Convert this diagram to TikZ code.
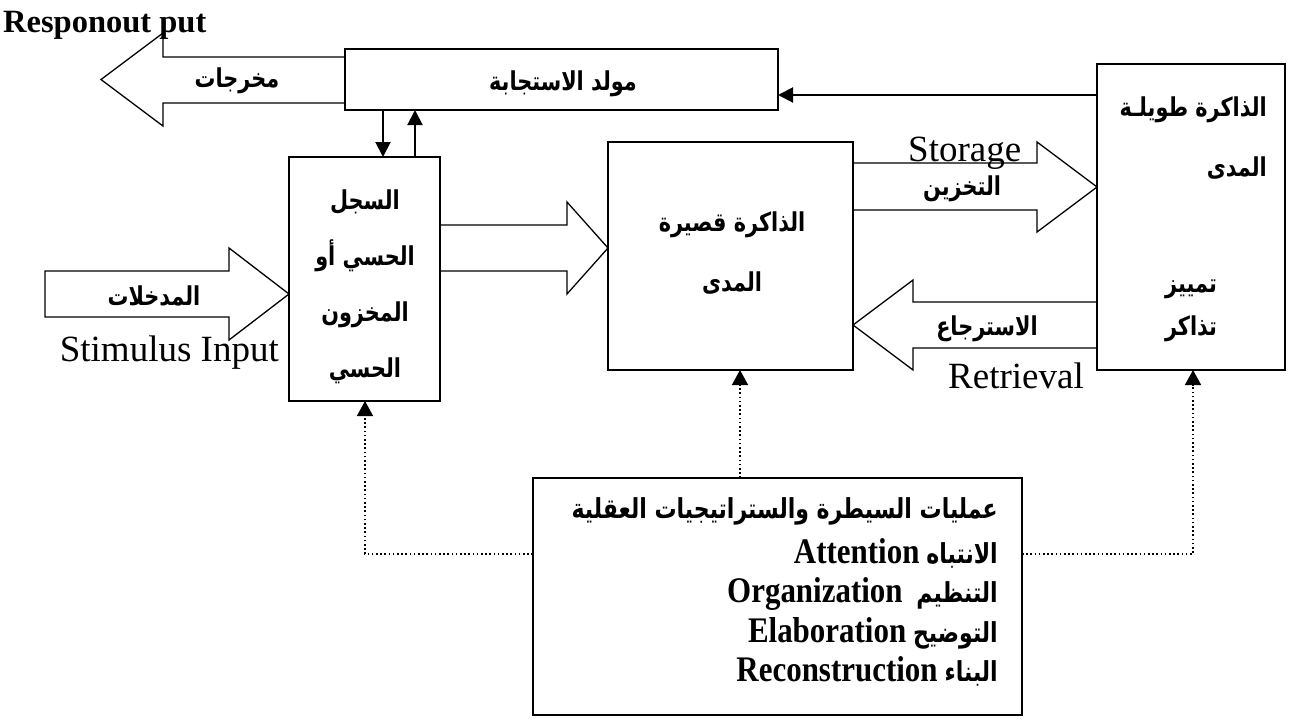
\documentclass[tikz,border=0pt]{standalone}
\usepackage{fontspec}
\setmainfont{Liberation Serif}
\newfontfamily\arabicfont[Script=Arabic, FakeStretch=0.8]{DejaVu Sans}
\newfontfamily\enbold[FakeStretch=0.86]{Liberation Serif Bold}
\TeXXeTstate=1
\usetikzlibrary{arrows.meta,calc}
\newcommand{\AR}[1]{{\arabicfont\bfseries\beginR #1\endR}}
\newcommand{\EB}[1]{{\enbold\fontsize{36}{39.5}\selectfont #1}}
\begin{document}
\begin{tikzpicture}[x=1pt,y=-1pt,
  box/.style={draw, line width=2pt, inner sep=0pt, outer sep=0pt},
  big/.style={draw, line width=1.3pt, line join=miter},
  arr/.style={line width=2pt, -{Triangle[length=15pt,width=15pt]}},
  dots/.style={line width=1.6pt, dash pattern=on 1.6pt off 2.6pt, -{Triangle[length=15pt,width=16pt]}},
  lab/.style={inner sep=0pt, font=\fontsize{26}{30}\selectfont},
  en/.style={inner sep=0pt, font=\fontsize{37}{40}\selectfont}]
\useasboundingbox (0,0) rectangle (1293,720);
% boxes
\node[box, minimum width=433pt, minimum height=61pt] (resp) at (561.5,79.5) {};
\node[box, minimum width=151pt, minimum height=244pt] (sens) at (364.5,279) {};
\node[box, minimum width=245pt, minimum height=228pt] (stm) at (730.5,256) {};
\node[box, minimum width=188pt, minimum height=306pt] (ltm) at (1191,217) {};
\node[box, minimum width=489pt, minimum height=237pt] (ctrl) at (777.5,596.5) {};
% big arrows
\draw[big] (resp.west |- 0,57) -- (163,57) -- (163,33) -- (101,79.5) -- (163,126) -- (163,103) -- (resp.west |- 0,103);
\draw[big] (45,271) -- (229,271) -- (229,248) -- (sens.west |- 0,294) -- (229,340) -- (229,317) -- (45,317) -- cycle;
\draw[big] (sens.east |- 0,225) -- (567,225) -- (567,202) -- (stm.west |- 0,248) -- (567,294) -- (567,271) -- (sens.east |- 0,271);
\draw[big] (stm.east |- 0,163) -- (1037,163) -- (1037,142) -- (ltm.west |- 0,187) -- (1037,232) -- (1037,210) -- (stm.east |- 0,210);
\draw[big] (ltm.west |- 0,302) -- (913,302) -- (913,280) -- (stm.east |- 0,325) -- (913,370) -- (913,348) -- (ltm.west |- 0,348);
% small arrows
\draw[arr] (ltm.west |- 0,95) -- (resp.east |- 0,95);
\draw[arr] (resp.south -| 383,0) -- (sens.north -| 383,0);
\draw[arr] (sens.north -| 415,0) -- (resp.south -| 415,0);
% dotted
\draw[dots] (ctrl.west |- 0,554) -- (365,554) -- (sens.south -| 365,0);
\draw[dots] (ctrl.north -| 740,0) -- (stm.south -| 740,0);
\draw[dots] (ctrl.east |- 0,554) -- (1193,554) -- (ltm.south -| 1193,0);
% English texts
\node[anchor=base west, inner sep=0pt, font=\bfseries\fontsize{32.5}{32}\selectfont] (title) at (3,32) {Responout put};
\node[en, anchor=base east] (stim) at (279,361) {Stimulus Input};
\node[en, anchor=base west] (stor) at (908,161) {Storage};
\node[en, anchor=base west] (retr) at (948,388) {Retrieval};
% Arabic labels
\node[lab] (outl) at (237,81) {\AR{مخرجات}};
\node[lab] (respl) at (563,84) {\AR{مولد الاستجابة}};
\node[lab] (inl) at (154,296) {\AR{المدخلات}};
\node[lab, align=center, font=\fontsize{26}{56}\selectfont] (sensl) at (365,287) {\AR{السجل}\\\AR{الحسي أو}\\\AR{المخزون}\\\AR{الحسي}};
\node[lab, align=center, font=\fontsize{26}{60}\selectfont] (stml) at (732,253) {\AR{الذاكرة قصيرة}\\\AR{المدى}};
\node[lab] (storl) at (962,189) {\AR{التخزين}};
\node[lab] (retl) at (987,329) {\AR{الاسترجاع}};
\node[lab, align=right, anchor=east, font=\fontsize{26}{60}\selectfont] (ltml) at (1267,138) {\AR{الذاكرة طويلـة}\\\AR{المدى}};
\node[lab, align=center, font=\fontsize{26}{43}\selectfont] (ltms) at (1191,311) {\AR{تمييز}\\\AR{تذاكر}};
\node[lab, align=right, anchor=east, font=\fontsize{27.5}{39.5}\selectfont] (ctrll) at (998,592) {\AR{عمليات السيطرة والستراتيجيات العقلية}\\[5pt]
\EB{Attention} \AR{الانتباه}\\
\EB{Organization}\ \ \AR{التنظيم}\\
\EB{Elaboration} \AR{التوضيح}\\
\EB{Reconstruction} \AR{البناء}};
\end{tikzpicture}
\end{document}
